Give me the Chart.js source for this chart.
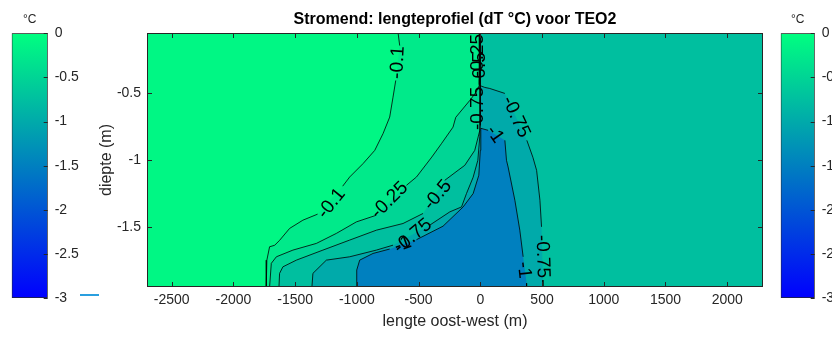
<!DOCTYPE html>
<html>
<head>
<meta charset="utf-8">
<title>Stromend: lengteprofiel (dT °C) voor TEO2</title>
<script src="https://cdn.jsdelivr.net/npm/chart.js@4.4.1/dist/chart.umd.min.js"></script>
<style>
  body { margin: 0; background: #fff; }
  #wrap { position: relative; width: 832px; height: 347px; overflow: hidden; }
  #wrap canvas { position: absolute; top: 0; }
  #stray { position: absolute; left: 80px; top: 294px; width: 19px; height: 2px; background: #2a9fdf; }
</style>
</head>
<body>
<div id="wrap">
  <canvas id="profile" width="832" height="347" style="left:0"></canvas>
  <canvas id="cbLeft" width="100" height="347" style="left:0"></canvas>
  <canvas id="cbRight" width="100" height="347" style="left:769px"></canvas>
  <div id="stray"></div>
</div>
<script>
// axis ranges and tick values
const xRange = [-2700, 2290];
const yRange = [-1.95, -0.05];
const xTicks = [-2500, -2000, -1500, -1000, -500, 0, 500, 1000, 1500, 2000];
const yTicks = [-0.5, -1, -1.5];
const cbRange = [-3, 0];
const cbTicks = [0, -0.5, -1, -1.5, -2, -2.5, -3];

// contour lines as [lengte (m), diepte (m)], null = break where a label sits
const contour010 = [[-666, -0.05], [-653, -0.144], null, [-685, -0.405], [-707, -0.530], [-734, -0.679],
  [-788, -0.803], [-855, -0.928], [-950, -1.027], [-1058, -1.127], [-1115, -1.196], null,
  [-1318, -1.405], [-1437, -1.450], [-1545, -1.512], [-1626, -1.601], [-1666, -1.638],
  [-1707, -1.649], [-1729, -1.749], [-1734, -1.95]];
const contour025 = [[-4, -0.05], [-8, -0.443], [-36, -0.495], [-85, -0.554], [-199, -0.681], [-221, -0.754],
  [-315, -0.878], [-393, -0.978], [-517, -1.127], [-598, -1.189], null, [-842, -1.413], [-1004, -1.463],
  [-1166, -1.549], [-1328, -1.624], [-1518, -1.674], [-1652, -1.724], [-1693, -1.773], [-1707, -1.95]];
const contour050 = [[0, -0.05], [0, -0.741], [-4, -0.778], [-45, -0.928], [-126, -1.040], [-180, -1.077],
  [-288, -1.152], null, [-464, -1.400], [-626, -1.475], [-842, -1.525], [-1058, -1.599], [-1275, -1.674],
  [-1490, -1.749], [-1599, -1.799], [-1626, -1.848], [-1631, -1.95]];
const contour075 = [[-1364, -1.95], [-1356, -1.848], [-1247, -1.749], [-1058, -1.724], [-842, -1.674],
  [-707, -1.637], null, [-409, -1.487], [-247, -1.388], [-152, -1.351], [-112, -1.251], [-58, -1.129],
  [-20, -1.002], [-4, -0.823], [-4, -0.443], [36, -0.457], [77, -0.465], [199, -0.502], null,
  [377, -0.853], [426, -0.980], [456, -1.077], [483, -1.301], [496, -1.500], null, [507, -1.898], [507, -1.95]];
const contour100 = [[-1004, -1.95], [-1001, -1.823], [-977, -1.749], [-869, -1.699], [-734, -1.666], null,
  [-517, -1.596], [-302, -1.495], [-139, -1.351], [-58, -1.251], [-12, -1.114], [0, -0.928], [4, -0.763],
  [63, -0.778], null, [199, -0.853], [212, -1.002], [225, -1.052], [280, -1.301], [320, -1.525],
  [347, -1.724], null, [375, -1.922], [375, -1.95]];

// level that colours each band (lower bound of the band)
const bandLevels = [-0.75, -1, -1.5, -0.5, -0.25, -0.1];

// clabel texts
const contourLabels = [
  { text: '-0.1', x: -669, y: -0.271, angle: -87 },
  { text: '-0.1', x: -1206, y: -1.325, angle: -51 },
  { text: '-0.25', x: -734, y: -1.301, angle: -45 },
  { text: '-0.5', x: -345, y: -1.263, angle: -50 },
  { text: '-0.75', x: -547, y: -1.569, angle: -40 },
  { text: '-1', x: -628, y: -1.631, angle: -20 },
  { text: '-0.25', x: -20, y: -0.219, angle: -90 },
  { text: '-0.5', x: -4, y: -0.316, angle: -90 },
  { text: '-0.75', x: -20, y: -0.614, angle: -90 },
  { text: '-0.75', x: 288, y: -0.678, angle: 65 },
  { text: '-1', x: 118, y: -0.808, angle: 55 },
  { text: '-0.75', x: 503, y: -1.722, angle: 88 },
  { text: '-1', x: 353, y: -1.823, angle: 84 }
];

const fontFamily = "'Liberation Sans', Arial, Helvetica, sans-serif";
const axisColor = '#262626';

// MATLAB 'winter' colormap over the colour range
function winter(v) {
  const t = (v - cbRange[0]) / (cbRange[1] - cbRange[0]);
  return 'rgb(0,' + Math.round(255 * t) + ',' + Math.round(255 * (1 - 0.5 * t)) + ')';
}

const toPoints = arr => arr.filter(p => p).map(p => ({ x: p[0], y: p[1] }));
const toLine = arr => arr.map(p => p ? { x: p[0], y: p[1] } : { x: null, y: null });

// closed shapes for the filled bands
const topLeft = { x: xRange[0], y: yRange[1] };
const bottomLeft = { x: xRange[0], y: yRange[0] };
const bandShapes = [
  [topLeft, { x: xRange[1], y: yRange[1] }, { x: xRange[1], y: yRange[0] }, bottomLeft],
  toPoints(contour075),
  toPoints(contour100),
  [topLeft].concat(toPoints(contour050), [bottomLeft]),
  [topLeft].concat(toPoints(contour025), [bottomLeft]),
  [topLeft].concat(toPoints(contour010), [bottomLeft])
];

const datasets = [];
bandShapes.forEach(function(shape, i) {
  datasets.push({
    data: shape,
    fill: 'shape',
    backgroundColor: winter(bandLevels[i]),
    borderColor: 'rgba(0,0,0,0)',
    borderWidth: 0,
    pointRadius: 0,
    order: 20 - i
  });
});
[contour010, contour025, contour050, contour075, contour100].forEach(function(line) {
  datasets.push({
    data: toLine(line),
    fill: false,
    borderColor: '#000',
    borderWidth: 0.8,
    pointRadius: 0,
    spanGaps: false,
    order: 1
  });
});

// inward tick marks and box, like MATLAB axes
const axesBox = {
  id: 'axesBox',
  afterDraw(chart) {
    const { ctx, chartArea: a, scales: { x, y } } = chart;
    ctx.save();
    ctx.strokeStyle = axisColor;
    ctx.lineWidth = 1;
    ctx.beginPath();
    xTicks.forEach(function(v) {
      const px = Math.round(x.getPixelForValue(v)) + 0.5;
      ctx.moveTo(px, a.bottom); ctx.lineTo(px, a.bottom - 5);
      ctx.moveTo(px, a.top); ctx.lineTo(px, a.top + 5);
    });
    yTicks.forEach(function(v) {
      const py = Math.round(y.getPixelForValue(v)) + 0.5;
      ctx.moveTo(a.left, py); ctx.lineTo(a.left + 5, py);
      ctx.moveTo(a.right, py); ctx.lineTo(a.right - 5, py);
    });
    ctx.stroke();
    ctx.strokeRect(a.left + 0.5, a.top + 0.5, a.right - a.left - 1, a.bottom - a.top - 1);
    ctx.restore();
  }
};

// contour labels drawn on the lines
const contourText = {
  id: 'contourText',
  afterDatasetsDraw(chart) {
    const { ctx, scales: { x, y } } = chart;
    ctx.save();
    ctx.font = '19px ' + fontFamily;
    ctx.fillStyle = '#000';
    ctx.textAlign = 'center';
    ctx.textBaseline = 'middle';
    contourLabels.forEach(function(l) {
      ctx.save();
      ctx.translate(x.getPixelForValue(l.x), y.getPixelForValue(l.y));
      ctx.rotate(l.angle * Math.PI / 180);
      ctx.fillText(l.text, 0, 0);
      ctx.restore();
    });
    ctx.restore();
  }
};

new Chart(document.getElementById('profile'), {
  type: 'line',
  data: { datasets: datasets },
  options: {
    responsive: false,
    animation: false,
    events: [],
    layout: { padding: { left: 90, right: 69, top: 0, bottom: 0 } },
    plugins: {
      legend: { display: false },
      tooltip: { enabled: false },
      title: {
        display: true,
        fullSize: false,
        text: 'Stromend: lengteprofiel (dT °C) voor TEO2',
        color: '#000',
        font: { family: fontFamily, size: 16, weight: 'bold' },
        padding: { top: 10.4, bottom: 3.4 }
      }
    },
    scales: {
      x: {
        type: 'linear',
        min: xRange[0],
        max: xRange[1],
        afterBuildTicks: function(scale) { scale.ticks = xTicks.map(v => ({ value: v })); },
        ticks: {
          color: axisColor,
          font: { family: fontFamily, size: 14 },
          padding: 5,
          maxRotation: 0,
          autoSkip: false,
          callback: v => String(v)
        },
        grid: { display: false, drawTicks: false },
        border: { display: false },
        title: {
          display: true,
          text: 'lengte oost-west (m)',
          color: axisColor,
          font: { family: fontFamily, size: 16 },
          padding: { top: 0, bottom: 15.4 }
        },
        afterFit: function(scale) { scale.height = 60; }
      },
      y: {
        type: 'linear',
        min: yRange[0],
        max: yRange[1],
        afterBuildTicks: function(scale) { scale.ticks = yTicks.map(v => ({ value: v })); },
        ticks: {
          color: axisColor,
          font: { family: fontFamily, size: 14 },
          padding: 6,
          callback: v => String(v)
        },
        grid: { display: false, drawTicks: false },
        border: { display: false },
        title: {
          display: true,
          text: 'diepte (m)',
          color: axisColor,
          font: { family: fontFamily, size: 16 },
          padding: { top: 7.4, bottom: 0 }
        },
        afterFit: function(scale) { scale.width = 57; }
      }
    }
  },
  plugins: [axesBox, contourText]
});

// colour bars
const colorbarTicks = {
  id: 'colorbarTicks',
  afterDatasetsDraw(chart) {
    const { ctx, chartArea: a, scales: { y } } = chart;
    ctx.save();
    ctx.strokeStyle = axisColor;
    ctx.lineWidth = 1;
    ctx.beginPath();
    cbTicks.forEach(function(v) {
      const py = Math.round(y.getPixelForValue(v)) + 0.5;
      ctx.moveTo(a.right, py); ctx.lineTo(a.right - 4, py);
    });
    ctx.stroke();
    ctx.restore();
  }
};

function colorbar(canvasId, barWidth) {
  const canvas = document.getElementById(canvasId);
  return new Chart(canvas, {
    type: 'bar',
    data: {
      labels: ['dT'],
      datasets: [{
        data: [cbRange],
        backgroundColor: function(context) {
          const chart = context.chart;
          const y = chart.scales.y;
          if (!chart.chartArea || !y) return winter(-1.5);
          const g = chart.ctx.createLinearGradient(0, y.getPixelForValue(cbRange[1]), 0, y.getPixelForValue(cbRange[0]));
          g.addColorStop(0, winter(cbRange[1]));
          g.addColorStop(1, winter(cbRange[0]));
          return g;
        },
        borderColor: axisColor,
        borderWidth: 1,
        borderSkipped: false,
        barPercentage: 1,
        categoryPercentage: 1
      }]
    },
    options: {
      responsive: false,
      animation: false,
      events: [],
      layout: { padding: { left: 11.7, right: 0, top: 0, bottom: 49 } },
      plugins: {
        legend: { display: false },
        tooltip: { enabled: false },
        title: {
          display: true,
          fullSize: false,
          text: '°C',
          color: axisColor,
          font: { family: fontFamily, size: 12, weight: 'normal' },
          padding: { top: 12.8, bottom: 6.1 }
        }
      },
      scales: {
        x: { display: false },
        y: {
          position: 'right',
          min: cbRange[0],
          max: cbRange[1],
          afterBuildTicks: function(scale) { scale.ticks = cbTicks.map(v => ({ value: v })); },
          ticks: {
            color: axisColor,
            font: { family: fontFamily, size: 14 },
            padding: 7,
            callback: v => String(v)
          },
          grid: { display: false, drawTicks: false },
          border: { display: false },
          afterFit: function(scale) { scale.width = canvas.width - 11.7 - barWidth; }
        }
      }
    },
    plugins: [colorbarTicks]
  });
}

colorbar('cbLeft', 36);
colorbar('cbRight', 34);
</script>
</body>
</html>
